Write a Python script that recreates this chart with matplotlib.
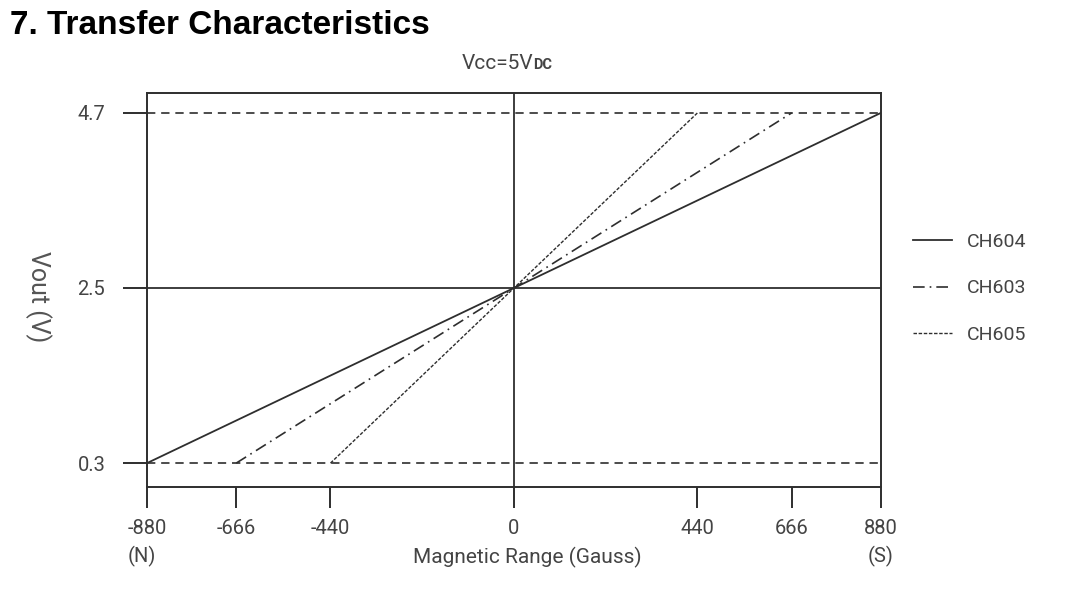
import numpy as np
import matplotlib
matplotlib.use("Agg")
import matplotlib.pyplot as plt

# data
series_names = ["CH604", "CH603", "CH605"]
ch604_x = [-880, 880]
ch603_x = [-666, 666]
ch605_x = [-440, 440]
vout_sat = [0.3, 4.7]
v_low, v_mid, v_high = 0.3, 2.5, 4.7
x_ticks = [-880, -666, -440, 0, 440, 666, 880]
x_tick_labels = ["-880\n(N)", "-666", "-440", "0", "440", "666", "880\n(S)"]
y_ticks = [0.3, 2.5, 4.7]
y_tick_labels = ["0.3", "2.5", "4.7"]

plt.rcParams['font.family'] = ['Roboto', 'DejaVu Sans']
txt = "#444444"
ln = "#2e2e2e"

fig = plt.figure(figsize=(10.8, 6.01), dpi=100)
ax = fig.add_axes([0.1361, 0.1897, 0.6796, 0.6556])

# reference lines
ax.plot([x_ticks[0], x_ticks[-1]], [v_high, v_high], color=ln, lw=1.2, dashes=(5, 3.5))
ax.plot([x_ticks[0], x_ticks[-1]], [v_low, v_low], color=ln, lw=1.2, dashes=(5, 3.5))
ax.axhline(v_mid, color=ln, lw=1.3)
ax.axvline(0, color=ln, lw=1.3)

# transfer curves
ax.plot(ch604_x, vout_sat, color=ln, lw=1.3, label=series_names[0])
ax.plot(ch603_x, vout_sat, color=ln, lw=1.2, dashes=(7, 3, 1, 3), label=series_names[1])
ax.plot(ch605_x, vout_sat, color=ln, lw=1.0, dashes=(2.5, 1.2), label=series_names[2])

ax.set_xlim(-880, 880)
ax.set_ylim(0, 4.95)

ax.set_xticks(x_ticks, x_tick_labels)
ax.set_yticks(y_ticks, y_tick_labels)
ax.tick_params(axis='x', direction='out', length=15, width=1.4, pad=8,
               labelsize=14.5, labelcolor=txt, color=ln)
ax.tick_params(axis='y', direction='out', length=17, width=1.4, pad=13,
               labelsize=14.5, labelcolor=txt, color=ln)
labs = ax.get_xticklabels()
for lab in labs:
    lab.set_linespacing(1.5)
labs[0].set_multialignment('left')
for s in ax.spines.values():
    s.set_color(ln)
    s.set_linewidth(1.4)

# legend off to the right
ax.legend(loc='center left', bbox_to_anchor=(0.829, 0.52), bbox_transform=fig.transFigure,
          frameon=False, fontsize=14, handlelength=2.0, handletextpad=0.8,
          labelspacing=1.45, labelcolor=txt)

fig.text(0.009, 0.958, "7. Transfer Characteristics", fontsize=24, fontweight='bold',
         family=['Liberation Sans', 'DejaVu Sans'], color='black', va='center', ha='left')
fig.text(533 / 1080, 0.895, "Vcc=5V", fontsize=15, color=txt, ha='right', va='center')
fig.text(533 / 1080, 0.892, "DC", fontsize=10.5, fontweight='bold', color=txt, ha='left', va='center')
fig.text(527 / 1080, 1 - 557 / 601, "Magnetic Range (Gauss)", fontsize=15, color=txt,
         ha='center', va='center')
fig.text(38 / 1080, 1 - 297 / 601, "Vout (V)", fontsize=18, color="#555555", rotation=270,
         ha='center', va='center')

fig.savefig("out.png", dpi=100)
